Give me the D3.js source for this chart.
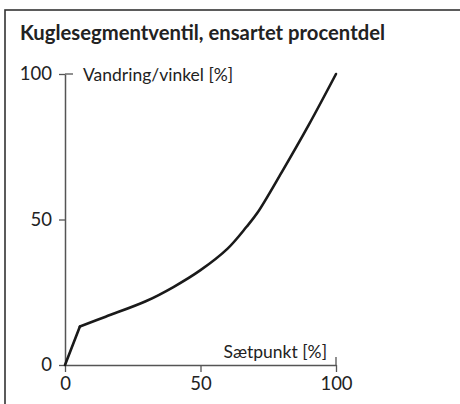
<!DOCTYPE html>
<html>
<head>
<meta charset="utf-8">
<script src="https://cdn.jsdelivr.net/npm/d3@7"></script>
<style>
  html, body { margin: 0; padding: 0; background: #fff; }
  svg { display: block; font-family: Lato, "Open Sans", sans-serif; }
</style>
</head>
<body>
<svg id="chart" width="460" height="404"></svg>
<script>
// Characteristic: setpoint [%] vs. travel/angle [%]
const setpoint = [0, 5.5, 15, 30, 40, 50, 60, 67, 71, 80, 90, 100];
const travel   = [0, 13.2, 16.6, 22, 26.8, 32.6, 40, 47.5, 52.3, 66.3, 82.6, 100];
const xTicks = [0, 50, 100];
const yTicks = [0, 50, 100];
const titleText = "Kuglesegmentventil, ensartet procentdel";
const yLabel = "Vandring/vinkel [%]";
const xLabel = "Sætpunkt [%]";

const svg = d3.select("#chart");
const axisColor = "#555";
const textColor = "#222";

// outer frame (open to the right and bottom edges)
svg.append("rect")
  .attr("x", 5).attr("y", 10)
  .attr("width", 470).attr("height", 420)
  .attr("fill", "none")
  .attr("stroke", "#333")
  .attr("stroke-width", 1.6);

svg.append("text")
  .attr("x", 20).attr("y", 40)
  .attr("font-size", 20)
  .attr("font-weight", "bold")
  .attr("fill", textColor)
  .attr("textLength", 365)
  .attr("lengthAdjust", "spacingAndGlyphs")
  .text(titleText);

const x = d3.scaleLinear().domain([0, 100]).range([65, 336]);
const y = d3.scaleLinear().domain([0, 100]).range([365, 74]);

// y axis
const yAxis = svg.append("g")
  .attr("transform", `translate(${x(0)},0)`)
  .call(d3.axisLeft(y).tickValues(yTicks).tickSize(6).tickSizeOuter(0).tickPadding(7));
yAxis.select(".domain").attr("stroke", axisColor).attr("stroke-width", 1.5);
yAxis.selectAll(".tick line").attr("stroke", axisColor).attr("stroke-width", 1.3);
yAxis.selectAll(".tick text")
  .attr("font-size", 18.5).attr("fill", textColor)
  .attr("font-family", "Lato, sans-serif");
// cap at the top of the y axis
yAxis.append("line")
  .attr("x1", 0).attr("x2", 8)
  .attr("y1", y(100)).attr("y2", y(100))
  .attr("stroke", axisColor).attr("stroke-width", 1.3);

// x axis
const xAxis = svg.append("g")
  .attr("transform", `translate(0,${y(0)})`)
  .call(d3.axisBottom(x).tickValues(xTicks).tickSize(7).tickSizeOuter(0).tickPadding(5));
xAxis.select(".domain").attr("stroke", axisColor).attr("stroke-width", 1.5);
xAxis.selectAll(".tick line").attr("stroke", axisColor).attr("stroke-width", 1.3);
xAxis.selectAll(".tick text")
  .attr("font-size", 18.5).attr("fill", textColor)
  .attr("font-family", "Lato, sans-serif");
// cap at the right end of the x axis
xAxis.append("line")
  .attr("x1", x(100)).attr("x2", x(100))
  .attr("y1", 0).attr("y2", -8)
  .attr("stroke", axisColor).attr("stroke-width", 1.3);

// axis titles
svg.append("text")
  .attr("x", 83).attr("y", 81)
  .attr("font-size", 17.5).attr("fill", textColor)
  .text(yLabel);
svg.append("text")
  .attr("x", 327).attr("y", 358)
  .attr("text-anchor", "end")
  .attr("font-size", 17.5).attr("fill", textColor)
  .text(xLabel);

// characteristic curve: straight rise to the knee, then a smooth curve
const pts = setpoint.map((s, i) => [s, travel[i]]);
const straight = d3.line().x(d => x(d[0])).y(d => y(d[1]));
const smooth = d3.line().x(d => x(d[0])).y(d => y(d[1])).curve(d3.curveCatmullRom.alpha(0.5));

svg.append("path")
  .attr("d", straight(pts.slice(0, 2)))
  .attr("fill", "none").attr("stroke", "#1a1a1a")
  .attr("stroke-width", 2.6).attr("stroke-linecap", "round");
svg.append("path")
  .attr("d", smooth(pts.slice(1)))
  .attr("fill", "none").attr("stroke", "#1a1a1a")
  .attr("stroke-width", 2.6).attr("stroke-linejoin", "round").attr("stroke-linecap", "round");
</script>
</body>
</html>
